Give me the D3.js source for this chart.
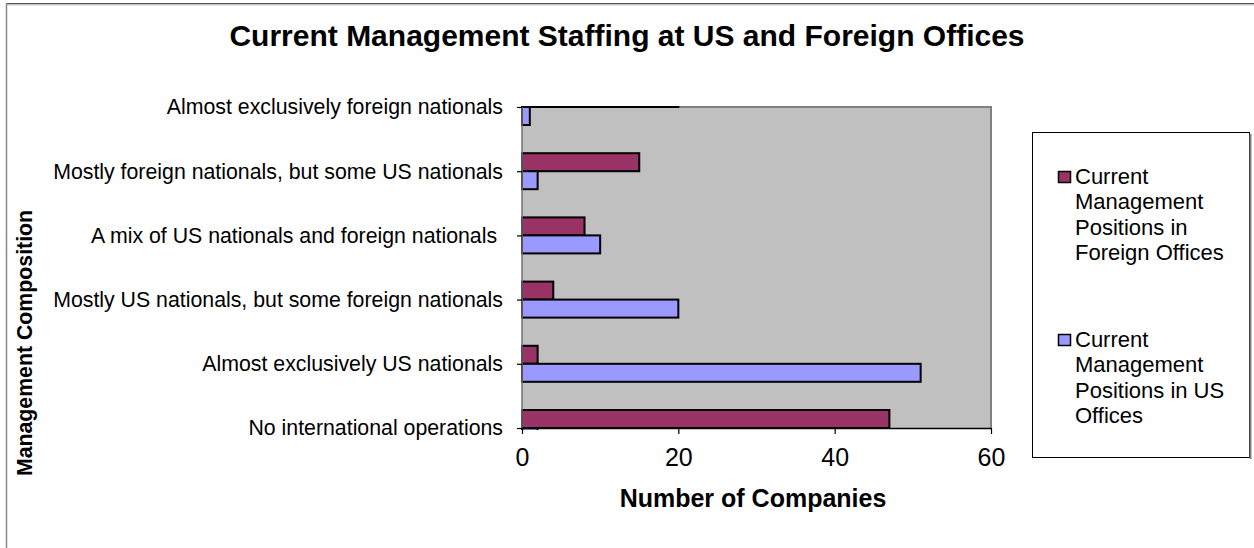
<!DOCTYPE html>
<html>
<head>
<meta charset="utf-8">
<script src="https://cdn.jsdelivr.net/npm/d3@7"></script>
<style>
  html, body { margin: 0; padding: 0; background: #fff; }
  svg { display: block; font-family: "Liberation Sans", Arial, sans-serif; }
</style>
</head>
<body>
<svg id="chart" width="1254" height="548"></svg>
<script>
// Categories, listed top to bottom as they appear on the axis
const categories = [
  "Almost exclusively foreign nationals",
  "Mostly foreign nationals, but some US nationals",
  "A mix of US nationals and foreign nationals ",
  "Mostly US nationals, but some foreign nationals",
  "Almost exclusively US nationals",
  "No international operations"
];
const seriesNames = [
  "Current Management Positions in Foreign Offices",
  "Current Management Positions in US Offices"
];
const foreignOffices = [20, 15, 8, 4, 2, 47];
const usOffices = [1, 2, 10, 20, 51, 2];
const xTicks = [0, 20, 40, 60];

const colors = ["#993366", "#9999FF"];
const legendLines = [
  ["Current", "Management", "Positions in", "Foreign Offices"],
  ["Current", "Management", "Positions in US", "Offices"]
];

const svg = d3.select("#chart");

// Plot area
const plot = { left: 522, right: 991, top: 107, bottom: 428 };
const x = d3.scaleLinear().domain([0, 60]).range([plot.left, plot.right]);
const y = d3.scalePoint().domain(categories).range([plot.top, plot.bottom]);
const barH = 18;
const offset = d3.scaleBand().domain(seriesNames).range([-barH, barH]).padding(0);

// Outer chart frame (top and left edges)
svg.append("line").attr("x1", 6).attr("x2", 1254).attr("y1", 3.5).attr("y2", 3.5)
  .attr("stroke", "#555").attr("stroke-width", 1.2);
svg.append("line").attr("x1", 6).attr("x2", 1254).attr("y1", 4.8).attr("y2", 4.8)
  .attr("stroke", "#aaa").attr("stroke-width", 1);
svg.append("line").attr("x1", 6.5).attr("x2", 6.5).attr("y1", 3).attr("y2", 548)
  .attr("stroke", "#888").attr("stroke-width", 1.5);

// Title
svg.append("text")
  .attr("x", 627).attr("y", 46)
  .attr("text-anchor", "middle")
  .attr("font-size", 30).attr("font-weight", "bold")
  .text("Current Management Staffing at US and Foreign Offices");

// Plot background
svg.append("rect")
  .attr("x", plot.left).attr("y", plot.top)
  .attr("width", plot.right - plot.left).attr("height", plot.bottom - plot.top)
  .attr("fill", "#C0C0C0");

// Top and right edges of the plot area
svg.append("path")
  .attr("d", `M${plot.left},${plot.top}H${plot.right}V${plot.bottom}`)
  .attr("fill", "none").attr("stroke", "#808080").attr("stroke-width", 2);

// Bars, clipped to the plot area
svg.append("clipPath").attr("id", "plotClip")
  .append("rect")
  .attr("x", plot.left - 1).attr("y", plot.top - 1)
  .attr("width", plot.right - plot.left + 2).attr("height", plot.bottom - plot.top + 3);

const barData = [];
categories.forEach((c, i) => {
  barData.push({ cat: c, series: seriesNames[0], value: foreignOffices[i], color: colors[0] });
  barData.push({ cat: c, series: seriesNames[1], value: usOffices[i], color: colors[1] });
});

svg.append("g").attr("clip-path", "url(#plotClip)")
  .selectAll("rect").data(barData).join("rect")
  .attr("x", x(0))
  .attr("y", d => y(d.cat) + offset(d.series))
  .attr("width", d => x(d.value) - x(0))
  .attr("height", offset.bandwidth())
  .attr("fill", d => d.color)
  .attr("stroke", "#000").attr("stroke-width", 2);

// Left axis line
svg.append("line").attr("x1", plot.left).attr("x2", plot.left)
  .attr("y1", plot.top).attr("y2", plot.bottom)
  .attr("stroke", "#707070").attr("stroke-width", 1.5);

// Category axis
const yAxis = svg.append("g")
  .attr("transform", `translate(${plot.left},0)`)
  .call(d3.axisLeft(y).tickSize(5).tickPadding(14));
yAxis.select(".domain").remove();
yAxis.selectAll(".tick line").attr("stroke", "#000").attr("stroke-width", 1.2);
yAxis.selectAll(".tick text")
  .attr("font-size", 21.3).attr("fill", "#000")
  .attr("font-family", "'Liberation Sans', Arial, sans-serif")
  .style("white-space", "pre");

// Value axis
const xAxis = svg.append("g")
  .attr("transform", `translate(0,${plot.bottom})`)
  .call(d3.axisBottom(x).tickValues(xTicks).tickSize(6).tickPadding(14).tickSizeOuter(0));
xAxis.select(".domain").attr("stroke", "#000").attr("stroke-width", 1.5);
xAxis.selectAll(".tick line").attr("stroke", "#000").attr("stroke-width", 1.2);
xAxis.selectAll(".tick text")
  .attr("font-size", 25).attr("fill", "#000")
  .attr("font-family", "'Liberation Sans', Arial, sans-serif");

// Axis titles
svg.append("text")
  .attr("x", 753).attr("y", 507)
  .attr("text-anchor", "middle")
  .attr("font-size", 25).attr("font-weight", "bold")
  .text("Number of Companies");

svg.append("text")
  .attr("transform", "translate(32,343) rotate(-90)")
  .attr("text-anchor", "middle")
  .attr("font-size", 21.3).attr("font-weight", "bold")
  .text("Management Composition");

// Legend
const legend = svg.append("g");
legend.append("rect")
  .attr("x", 1032.5).attr("y", 132.5).attr("width", 217).attr("height", 325)
  .attr("fill", "#fff").attr("stroke", "#000").attr("stroke-width", 1);
legend.append("line").attr("x1", 1250.5).attr("x2", 1250.5).attr("y1", 134).attr("y2", 459)
  .attr("stroke", "#808080").attr("stroke-width", 2);

const legendTop = [184, 347];
seriesNames.forEach((name, i) => {
  const g = legend.append("g").attr("class", "legend-item");
  g.append("rect")
    .attr("x", 1058.5).attr("y", legendTop[i] - 12.5).attr("width", 12).attr("height", 11)
    .attr("fill", colors[i]).attr("stroke", "#000").attr("stroke-width", 1.5);
  const t = g.append("text").attr("x", 1075).attr("y", legendTop[i]).attr("font-size", 22);
  legendLines[i].forEach((line, j) => {
    t.append("tspan").attr("x", 1075).attr("dy", j === 0 ? 0 : 25.3).text(line);
  });
});
</script>
</body>
</html>
